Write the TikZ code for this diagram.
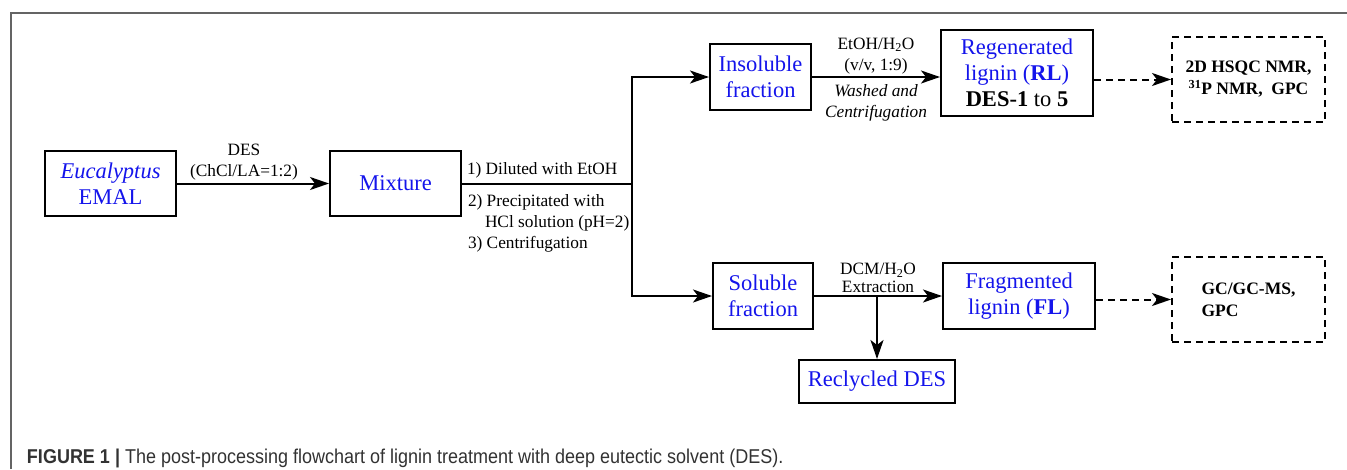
\documentclass[tikz,border=0pt]{standalone}
\usepackage{fontspec}
\setmainfont{Liberation Serif}
\newfontfamily\capfont[FakeStretch=0.9]{Liberation Sans}
\usetikzlibrary{arrows.meta,positioning}
\definecolor{labblue}{RGB}{20,20,235}
\definecolor{framegray}{RGB}{100,100,100}
\definecolor{capgray}{RGB}{50,50,50}

\begin{document}
\begin{tikzpicture}[x=1pt,y=-1pt,>={Stealth[length=19pt,width=13pt,inset=5pt]},
  node distance=100pt,on grid,line width=2pt,
  box/.style={draw,rectangle,inner sep=0pt,align=center,text=labblue,
    font=\fontsize{22.5}{26}\selectfont},
  dbox/.style={draw,dash pattern=on 7pt off 5pt,inner sep=0pt,minimum width=153pt,
    minimum height=85pt,font=\bfseries\fontsize{17.5}{22}\selectfont},
  lab/.style={font=\fontsize{17.3}{21}\selectfont,inner sep=2pt,align=center}]
  \useasboundingbox (0,0) rectangle (1347,469);
  \draw[framegray,line width=1.5pt] (11,469) -- (11,13) -- (1347,13);

  \node[box,minimum width=131pt,minimum height=65pt] (emal) at (110.5,183.5) {\textit{Eucalyptus}\\EMAL};
  \node[box,minimum width=131pt,minimum height=65pt] (mix) [right=285pt of emal] {Mixture};
  \coordinate[right=236.5pt of mix] (split);

  \node[box,minimum width=101pt,minimum height=66pt] (ins) at (760.5,77) {Insoluble\\fraction};
  \node[box,minimum width=152pt,minimum height=86pt] (regen) [right=256.5pt of ins,yshift=4pt]
    {Regenerated\\lignin (\textbf{RL})\\\textcolor{black}{\textbf{DES-1} to \textbf{5}}};
  \node[dbox,align=center] (nmr) [right=231.5pt of regen,yshift=-6.5pt]
    {2D HSQC NMR,\\\textsuperscript{31}P NMR,\ \ GPC};

  \node[box,minimum width=100pt,minimum height=66pt] (sol) at (763,296) {Soluble\\fraction};
  \node[box,minimum width=152pt,minimum height=66pt] (frag) [right=256pt of sol] {Fragmented\\lignin (\textbf{FL})};
  \node[dbox,align=left] (gc) [right=229.5pt of frag,yshift=-3.5pt] {GC/GC-MS,\\GPC};
  \node[box,minimum width=156pt,minimum height=43pt] (recy) at (877,381.5) {Reclycled DES};
  \coordinate (tap) at (sol -| recy);

  \draw[->] (emal) -- (mix);
  \draw (mix) -- (split);
  \draw[->] (split) |- (ins);
  \draw[->] (split) |- (sol);
  \draw[->] (ins) -- (ins -| regen.west);
  \draw[->,dash pattern=on 7pt off 5pt] (nmr.west -| regen.east) -- (nmr);
  \draw[->] (sol) -- (sol -| frag.west);
  \draw[->,dash pattern=on 7pt off 5pt] (gc.west -| frag.east) -- (gc);
  \draw[->] (tap) -- (recy);

  % step labels
  \path (emal) -- node[lab,above,xshift=-9pt] {DES\\(ChCl/LA=1:2)} (mix);
  \node[lab,above right,inner sep=4pt] at (mix.east) {1) Diluted with EtOH};
  \node[lab,anchor=north west,align=left,xshift=3pt,yshift=-8pt] at (mix.east)
    {2) Precipitated with\\\hspace*{17pt}HCl solution (pH=2)\\3) Centrifugation};
  \path (ins) -- node[lab,above] {EtOH/H\textsubscript{2}O\\(v/v, 1:9)} (ins -| regen.west);
  \path (ins) -- node[lab,below,inner sep=6pt] {\textit{Washed and}\\\textit{Centrifugation}} (ins -| regen.west);
  \path (sol) -- node[lab,above,font=\fontsize{17.3}{18}\selectfont] {DCM/H\textsubscript{2}O\\Extraction} (sol -| frag.west);

  \node[anchor=base west,text=capgray,font=\capfont\fontsize{20}{24}\selectfont,inner sep=0pt] (cap) at (26,463)
    {\textbf{FIGURE 1 |} The post-processing flowchart of lignin treatment with deep eutectic solvent (DES).};
\end{tikzpicture}
\end{document}
